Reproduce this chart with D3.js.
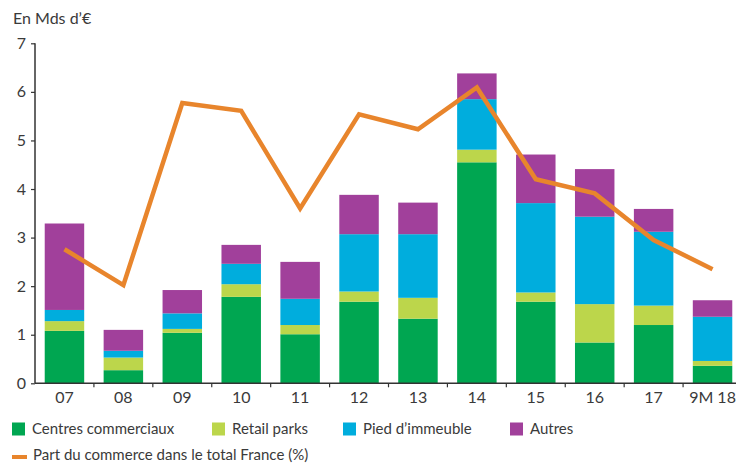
<!DOCTYPE html>
<html>
<head>
<meta charset="utf-8">
<script src="https://cdn.jsdelivr.net/npm/d3@7"></script>
<style>
  html, body { margin: 0; padding: 0; background: #fff; }
  svg { display: block; }
  text { font-family: Lato, "Open Sans", sans-serif; fill: #3a3a3a; }
</style>
</head>
<body>
<svg id="chart" width="736" height="464"></svg>
<script>
const categories = ["07","08","09","10","11","12","13","14","15","16","17","9M 18"];
const centresCommerciaux = [1.08,0.27,1.04,1.78,1.01,1.68,1.33,4.55,1.68,0.84,1.20,0.36];
const retailParks        = [0.20,0.26,0.08,0.26,0.19,0.21,0.43,0.26,0.19,0.79,0.40,0.10];
const piedImmeuble       = [0.23,0.14,0.32,0.42,0.54,1.18,1.31,1.04,1.84,1.80,1.52,0.91];
const autres             = [1.78,0.43,0.48,0.39,0.76,0.81,0.65,0.53,1.00,0.98,0.47,0.34];
const partCommerce       = [2.76,2.02,5.77,5.61,3.60,5.54,5.23,6.09,4.20,3.91,2.95,2.35];
const yTicks = [0,1,2,3,4,5,6,7];
const seriesNames = ["Centres commerciaux","Retail parks","Pied d\u2019immeuble","Autres"];
const lineName = "Part du commerce dans le total France (%)";
const unitLabel = "En Mds d\u2019\u20AC";

const colors = ["#00A651","#BCD64B","#00ADDD","#A1409B"];
const lineColor = "#E8852C";

const svg = d3.select("#chart");
const x = d3.scaleBand().domain(categories).range([35, 742]).paddingInner(0.33).paddingOuter(0.165);
const y = d3.scaleLinear().domain([0, 7]).range([383.3, 43.3]);

const seriesArrays = [centresCommerciaux, retailParks, piedImmeuble, autres];
const table = categories.map((c, i) => {
  const row = { cat: c };
  seriesNames.forEach((s, j) => row[s] = seriesArrays[j][i]);
  return row;
});
const stacked = d3.stack().keys(seriesNames)(table);

svg.append("g").selectAll("g").data(stacked).join("g")
  .attr("fill", (d, i) => colors[i])
  .selectAll("rect").data(d => d).join("rect")
  .attr("x", d => x(d.data.cat))
  .attr("width", x.bandwidth())
  .attr("y", d => y(d[1]))
  .attr("height", d => y(d[0]) - y(d[1]));

// line
const line = d3.line()
  .x((d, i) => x(categories[i]) + x.bandwidth() / 2)
  .y(d => y(d));
svg.append("path").datum(partCommerce)
  .attr("d", line)
  .attr("fill", "none")
  .attr("stroke", lineColor)
  .attr("stroke-width", 4.5)
  .attr("stroke-linejoin", "miter");

// y axis
const yAxis = svg.append("g").attr("transform", "translate(35,0)")
  .call(d3.axisLeft(y).tickValues(yTicks).tickSize(4).tickPadding(5).tickFormat(d3.format("d")));
yAxis.select(".domain").attr("stroke", "#333").attr("stroke-width", 1.5).attr("d", `M0,${y(7)}V${y(0)}`);
yAxis.selectAll(".tick line").attr("stroke", "#333").attr("stroke-width", 1.2);
yAxis.selectAll(".tick text").style("font-size", "16px").attr("fill", "#3a3a3a");

// x axis
const xAxisG = svg.append("g").attr("transform", `translate(0,${y(0)})`);
xAxisG.append("line").attr("x1", 35).attr("x2", 736).attr("y1", 0).attr("y2", 0)
  .attr("stroke", "#333").attr("stroke-width", 1.5);
const boundaries = categories.slice(1).map(c => x(c) - (x.step() - x.bandwidth()) / 2);
xAxisG.selectAll("line.tk").data(boundaries).join("line").attr("class", "tk")
  .attr("x1", d => d).attr("x2", d => d).attr("y1", 0).attr("y2", 4)
  .attr("stroke", "#333").attr("stroke-width", 1.2);
xAxisG.selectAll("text").data(categories).join("text")
  .attr("x", d => x(d) + x.bandwidth() / 2)
  .attr("y", 20)
  .attr("text-anchor", "middle")
  .style("font-size", "16px")
  .text(d => d);

// unit label
svg.append("text").attr("x", 13).attr("y", 24).style("font-size", "16px").text(unitLabel);

// legend
const legendX = [12, 212, 343, 510];
const lg = svg.append("g");
seriesNames.forEach((s, i) => {
  lg.append("rect").attr("x", legendX[i]).attr("y", 422.5).attr("width", 13).attr("height", 13).attr("fill", colors[i]);
  lg.append("text").attr("x", legendX[i] + 20).attr("y", 434).style("font-size", "15px").text(s);
});
lg.append("rect").attr("x", 12).attr("y", 455).attr("width", 15).attr("height", 4).attr("fill", lineColor);
lg.append("text").attr("x", 33).attr("y", 460).style("font-size", "15px").text(lineName);
</script>
</body>
</html>
